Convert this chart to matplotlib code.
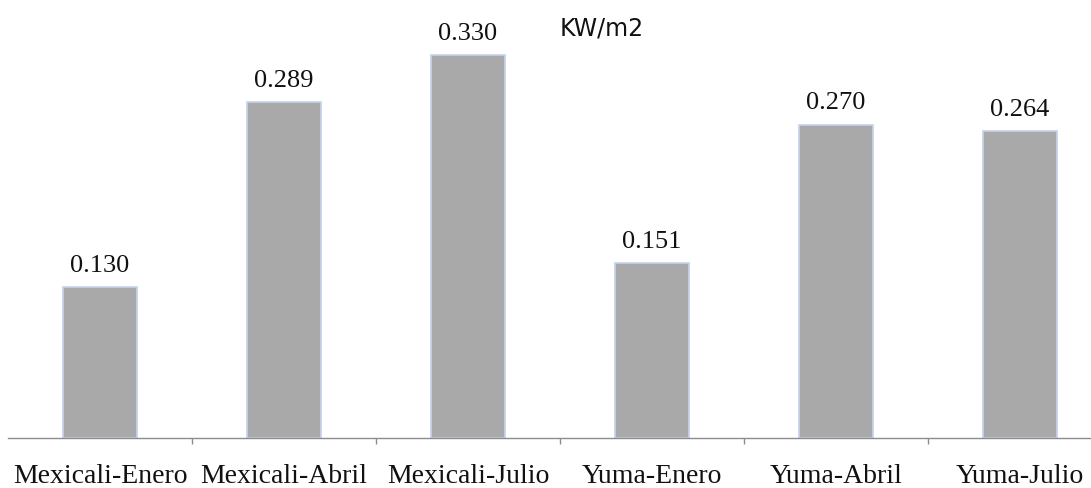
import matplotlib
matplotlib.use("Agg")
import matplotlib.pyplot as plt
import numpy as np

# irradiance per site/month (KW/m2)
categories = ['Mexicali-Enero', 'Mexicali-Abril', 'Mexicali-Julio',
              'Yuma-Enero', 'Yuma-Abril', 'Yuma-Julio']
values = [0.130, 0.289, 0.330, 0.151, 0.270, 0.264]
value_labels = ['0.130', '0.289', '0.330', '0.151', '0.270', '0.264']
title = 'KW/m2'

W, H = 1091, 489
fig = plt.figure(figsize=(W / 100, H / 100), dpi=100)

ymax = 0.38
px_per_unit = 1161.0
ax = fig.add_axes([8 / W, 50 / H, 1104 / W, ymax * px_per_unit / H])

x = np.arange(len(categories))
ax.bar(x, values, width=0.40, color='#a9a9a9', edgecolor='#c4d3ea', linewidth=1.2)

for xi, v, lab in zip(x, values, value_labels):
    ax.annotate(lab, (xi, v), xytext=(0, 8), textcoords='offset points',
                ha='center', va='bottom', fontsize=19, family='Liberation Serif',
                color='#111111')

ax.set_xlim(-0.5, len(categories) - 0.5)
ax.set_ylim(0, ymax)
ax.set_yticks([])
ax.set_xticks(x)
ax.set_xticklabels(categories, fontsize=20, family='Liberation Serif', color='#111111')
ax.set_xticks(np.arange(1, len(categories) + 1) - 0.5, minor=True)
ax.tick_params(axis='x', which='major', length=0, pad=18)
ax.tick_params(axis='x', which='minor', length=4, width=1, color='#8c8c8c', direction='out')

for s in ['top', 'right', 'left']:
    ax.spines[s].set_visible(False)
ax.spines['bottom'].set_color('#8c8c8c')
ax.spines['bottom'].set_linewidth(1)

fig.text(602 / W, 1 - 29 / H, title, ha='center', va='center', fontsize=17,
         family='DejaVu Sans', color='#111111')

fig.savefig('out.png', dpi=100)
